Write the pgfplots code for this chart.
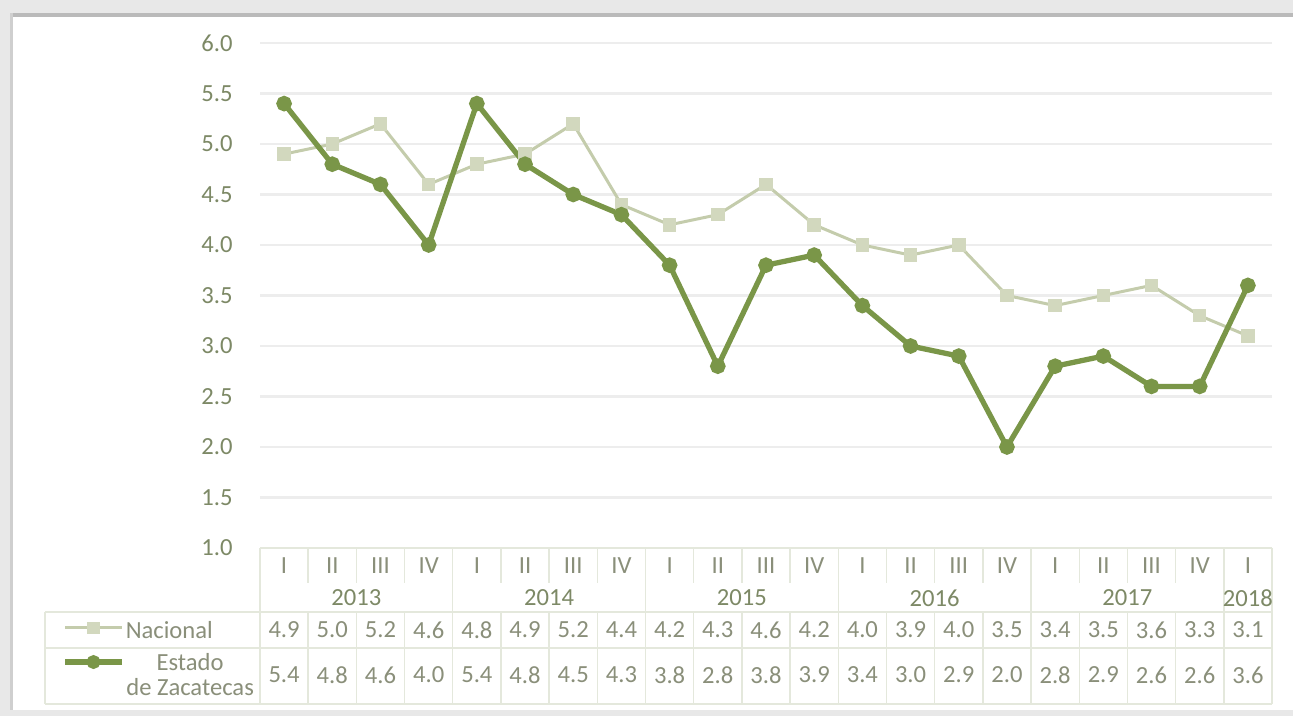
\documentclass[border=0pt]{standalone}
\usepackage{fontspec}
\setmainfont{Carlito}
\usepackage{pgfplots}
\usepackage{pgfplotstable}
\pgfplotsset{compat=1.18}

\definecolor{zac}{RGB}{122,150,72}
\definecolor{nac}{RGB}{196,204,172}
\definecolor{nacmark}{RGB}{210,216,190}
\definecolor{txt}{RGB}{125,137,102}
\definecolor{num}{RGB}{138,143,122}
\definecolor{tline}{RGB}{228,232,220}
\definecolor{gridc}{RGB}{237,237,237}

% quarter, national rate, Zacatecas rate
\pgfplotstableread{
x q nac zac
0 I 4.9 5.4
1 II 5.0 4.8
2 III 5.2 4.6
3 IV 4.6 4.0
4 I 4.8 5.4
5 II 4.9 4.8
6 III 5.2 4.5
7 IV 4.4 4.3
8 I 4.2 3.8
9 II 4.3 2.8
10 III 4.6 3.8
11 IV 4.2 3.9
12 I 4.0 3.4
13 II 3.9 3.0
14 III 4.0 2.9
15 IV 3.5 2.0
16 I 3.4 2.8
17 II 3.5 2.9
18 III 3.6 2.6
19 IV 3.3 2.6
20 I 3.1 3.6
}\datatable

\begin{document}
\begin{tikzpicture}[font=\fontsize{7}{8.4}\selectfont]
% page and shadowed frame
\fill[black!9] (0,0) rectangle (129.3mm,71.6mm);
\fill[white] (1.0mm,0.6mm) rectangle (129.3mm,70.3mm);
\fill[black!27] (1.0mm,69.9mm) rectangle (129.3mm,70.3mm);
\fill[black!19] (1.0mm,0.6mm) rectangle (1.3mm,70.3mm);

\begin{axis}[
  at={(26mm,16.8mm)}, anchor=south west,
  scale only axis, width=101.2mm, height=50.5mm,
  xmin=-0.5, xmax=20.5, ymin=1, ymax=6,
  clip=false,
  axis line style={draw=none},
  major tick length=0pt,
  xtick=data,
  xticklabels from table={\datatable}{q},
  xticklabel style={anchor=center, yshift=-1.8mm, text=num},
  ytick={1,1.5,...,6},
  yticklabel style={xshift=-1.5mm, text=txt},
  ymajorgrids, grid style={gridc, line width=0.6pt},
  /pgf/number format/.cd, fixed, fixed zerofill, precision=1, assume math mode=true,
]
% table rules
\draw[tline] (axis cs:-0.5,1) -- (axis cs:20.5,1);
\pgfplotsinvokeforeach{0,...,19}{
  \draw[tline] (axis cs:#1+0.5,1) -- (axis cs:#1+0.5,0.653);
  \draw[tline] (axis cs:#1+0.5,0.366) -- (axis cs:#1+0.5,-0.545);
}
\pgfplotsinvokeforeach{-0.5,3.5,7.5,11.5,15.5,19.5,20.5}{
  \draw[tline] (axis cs:#1,1) -- (axis cs:#1,-0.545);
}
\draw[tline] (axis cs:-4.96,0.366) -- (axis cs:20.5,0.366);
\draw[tline] (axis cs:-4.96,0.010) -- (axis cs:20.5,0.010);
\draw[tline] (axis cs:-4.96,-0.545) -- (axis cs:20.5,-0.545);
\draw[tline] (axis cs:-4.96,0.366) -- (axis cs:-4.96,-0.545);

% year labels
\node[text=txt] at (axis cs:1.5,0.505) {2013};
\node[text=txt] at (axis cs:5.5,0.505) {2014};
\node[text=txt] at (axis cs:9.5,0.505) {2015};
\node[text=txt] at (axis cs:13.5,0.505) {2016};
\node[text=txt] at (axis cs:17.5,0.505) {2017};
\node[text=txt] at (axis cs:20,0.505) {2018};

% series
\addplot[nac, line width=0.85pt, mark=square*, mark size=1.5pt,
  mark options={draw=nacmark, fill=nacmark}] table[x=x, y=nac] {\datatable};
\addplot[zac, line width=1.5pt, mark=*, mark size=1.45pt,
  mark options={draw=zac, fill=zac}] table[x=x, y=zac] {\datatable};

% table values
\addplot[draw=none, mark=none, forget plot, nodes near coords, point meta=explicit,
  nodes near coords style={anchor=center, text=num}]
  table[x=x, y expr=0.188, meta=nac] {\datatable};
\addplot[draw=none, mark=none, forget plot, nodes near coords, point meta=explicit,
  nodes near coords style={anchor=center, text=num}]
  table[x=x, y expr=-0.257, meta=zac] {\datatable};

% row keys
\addplot[nac, line width=0.85pt, mark=square*, mark size=1.3pt, mark indices={2},
  mark options={draw=nacmark, fill=nacmark}, forget plot]
  coordinates {(-4.546,0.208) (-3.955,0.208) (-3.364,0.208)};
\node[anchor=west, text=num, inner sep=0pt] at (axis cs:-3.30,0.19) {Nacional};
\addplot[zac, line width=1.5pt, mark=*, mark size=1.2pt, mark indices={2},
  mark options={draw=zac, fill=zac}, forget plot]
  coordinates {(-4.546,-0.129) (-3.955,-0.129) (-3.364,-0.129)};
\node[text=num, inner sep=0pt] at (axis cs:-1.95,-0.13) {Estado};
\node[text=num, inner sep=0pt] at (axis cs:-1.95,-0.376) {de Zacatecas};
\end{axis}
\end{tikzpicture}
\end{document}
